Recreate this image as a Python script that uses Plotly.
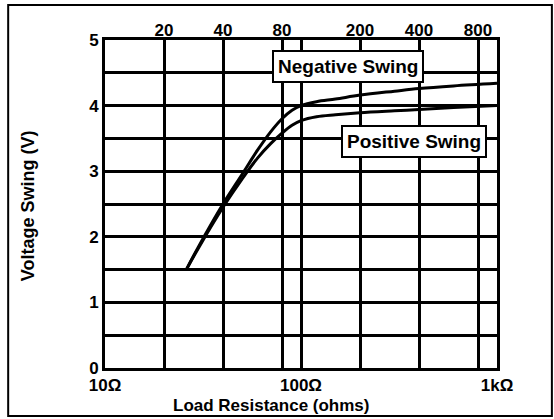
import plotly.graph_objects as go

# Data
load_ohms = [26, 30, 40, 50, 60, 70, 80, 90, 100, 120, 150, 200, 300, 400, 600, 1000]
negative_swing = [1.5, 1.85, 2.5, 2.95, 3.32, 3.6, 3.8, 3.93, 4.0, 4.06, 4.1, 4.16, 4.22, 4.26, 4.3, 4.34]
positive_swing = [1.5, 1.83, 2.45, 2.88, 3.2, 3.42, 3.58, 3.7, 3.77, 3.83, 3.86, 3.89, 3.92, 3.94, 3.97, 4.0]

grid_x = [10, 20, 40, 80, 100, 200, 400, 800, 1000]
bottom_labels = ["10Ω", "", "", "", "100Ω", "", "", "", "1kΩ"]
top_ticks = [20, 40, 80, 200, 400, 800]
top_labels = ["20", "40", "80", "200", "400", "800"]
y_ticks = [0, 0.5, 1, 1.5, 2, 2.5, 3, 3.5, 4, 4.5, 5]
y_labels = ["0", "", "1", "", "2", "", "3", "", "4", "", "5"]

FONT = "Liberation Sans, Arial, Helvetica, sans-serif"
TICKFONT = dict(size=17, family=FONT, weight="bold", color="black")

fig = go.Figure()
fig.add_trace(go.Scatter(x=load_ohms, y=negative_swing, mode="lines",
                         line=dict(color="black", width=3, shape="spline"),
                         name="Negative Swing", showlegend=False))
fig.add_trace(go.Scatter(x=load_ohms, y=positive_swing, mode="lines",
                         line=dict(color="black", width=3, shape="spline"),
                         name="Positive Swing", showlegend=False, xaxis="x2"))

fig.update_layout(
    width=554, height=419,
    margin=dict(l=105, r=57, t=40, b=51, autoexpand=False),
    paper_bgcolor="white", plot_bgcolor="white",
    font=dict(family=FONT, color="black", size=17, weight="bold"),
    xaxis=dict(type="log", range=[1, 3], tickvals=grid_x, ticktext=bottom_labels,
               showgrid=True, gridcolor="black", gridwidth=3,
               showline=True, linecolor="black", linewidth=3, mirror=True,
               ticks="", zeroline=False, automargin=False, tickfont=TICKFONT),
    xaxis2=dict(type="log", range=[1, 3], overlaying="x", side="top",
                tickvals=top_ticks, ticktext=top_labels, showgrid=False,
                ticks="", showline=False, zeroline=False, automargin=False,
                tickfont=TICKFONT),
    yaxis=dict(range=[0, 5], tickvals=y_ticks, ticktext=y_labels,
               showgrid=True, gridcolor="black", gridwidth=3,
               showline=True, linecolor="black", linewidth=3, mirror=True,
               ticks="", zeroline=False, automargin=False, tickfont=TICKFONT),
    annotations=[
        dict(x=0.426, y=-0.113, xref="paper", yref="paper", text="Load Resistance (ohms)",
             showarrow=False, xanchor="center", yanchor="middle",
             font=dict(size=17, family=FONT, weight="bold")),
        dict(x=-0.196, y=0.494, xref="paper", yref="paper", text="Voltage Swing (V)",
             showarrow=False, xanchor="center", yanchor="middle", textangle=-90,
             font=dict(size=18, family=FONT, weight="bold")),
        dict(x=0.62, y=4.6, xref="paper", yref="y", text="Negative Swing",
             showarrow=False, xanchor="center", yanchor="middle",
             bgcolor="white", bordercolor="black", borderwidth=2,
             borderpad=4, font=dict(size=19, family=FONT, weight="bold")),
        dict(x=0.788, y=3.45, xref="paper", yref="y", text="Positive Swing",
             showarrow=False, xanchor="center", yanchor="middle",
             bgcolor="white", bordercolor="black", borderwidth=2,
             borderpad=4, font=dict(size=19, family=FONT, weight="bold")),
    ],
    shapes=[dict(type="rect", xref="paper", yref="paper",
                 x0=-0.247, x1=1.140, y0=-0.146, y1=1.107,
                 line=dict(color="black", width=2))],
)

fig.write_html("out.html",
               config={"displayModeBar": False},
               post_script="document.body.style.margin='0';document.body.style.overflow='hidden';")
